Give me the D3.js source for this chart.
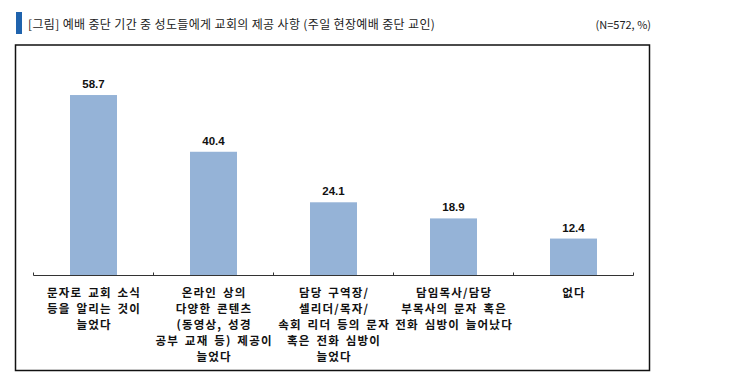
<!DOCTYPE html>
<html><head><meta charset="utf-8">
<script src="https://cdn.jsdelivr.net/npm/d3@7"></script>
<style>
html,body{margin:0;padding:0;background:#fff;}
svg{display:block;}
</style></head>
<body>
<svg id="chart" width="731" height="383"></svg>
<script>
const titleText = "[그림] 예배 중단 기간 중 성도들에게 교회의 제공 사항 (주일 현장예배 중단 교인)";
const noteText = "(N=572, %)";
const categories = [
  ["문자로 교회 소식", "등을 알리는 것이", "늘었다"],
  ["온라인 상의", "다양한 콘텐츠", "(동영상, 성경", "공부 교재 등) 제공이", "늘었다"],
  ["담당 구역장/", "셀리더/목자/", "속회 리더 등의 문자", "혹은 전화 심방이", "늘었다"],
  ["담임목사/담당", "부목사의 문자 혹은", "전화 심방이 늘어났다"],
  ["없다"]
];
const values = [58.7, 40.4, 24.1, 18.9, 12.4];
const yDomain = [0, 70];

const svg = d3.select("#chart");

// header
svg.append("rect").attr("x", 16).attr("y", 12).attr("width", 6).attr("height", 22).attr("fill", "#1f63ad");
svg.append("text").attr("x", 28).attr("y", 29)
  .attr("font-family", "'Noto Sans CJK KR', sans-serif").attr("font-size", 12)
  .attr("letter-spacing", 0.35)
  .attr("fill", "#222").text(titleText);
svg.append("text").attr("x", 651).attr("y", 29).attr("text-anchor", "end")
  .attr("font-family", "'Noto Sans CJK KR', sans-serif").attr("font-size", 11)
  .attr("fill", "#222").text(noteText);

// frame
svg.append("rect").attr("x", 15.5).attr("y", 45).attr("width", 634).attr("height", 325.5)
  .attr("fill", "none").attr("stroke", "#111").attr("stroke-width", 1.5);

const idx = d3.range(values.length);
const x = d3.scaleBand().domain(idx).range([33.5, 633.5]).paddingInner(0).paddingOuter(0);
const y = d3.scaleLinear().domain(yDomain).range([277, 60]);
const barW = 47;

// bars
svg.append("g").selectAll("rect").data(idx).join("rect")
  .attr("x", i => x(i) + x.bandwidth() / 2 - barW / 2)
  .attr("y", i => y(values[i]))
  .attr("width", barW)
  .attr("height", i => y(0) - y(values[i]) - 1.5)
  .attr("fill", "#95b3d7");

// axis
const axisY = 275.5;
svg.append("line").attr("x1", 33.5).attr("x2", 633.5).attr("y1", axisY).attr("y2", axisY)
  .attr("stroke", "#333").attr("stroke-width", 1);
const tickXs = d3.range(values.length + 1).map(k => k < values.length ? x(k) : x(values.length - 1) + x.bandwidth());
svg.append("g").selectAll("line").data(tickXs).join("line")
  .attr("x1", d => d).attr("x2", d => d).attr("y1", axisY - 3).attr("y2", axisY)
  .attr("stroke", "#333").attr("stroke-width", 1);

// value labels
svg.append("g").selectAll("text").data(idx).join("text")
  .attr("x", i => x(i) + x.bandwidth() / 2)
  .attr("y", i => y(values[i]) - 7)
  .attr("text-anchor", "middle")
  .attr("font-family", "'Liberation Sans', Arial, sans-serif")
  .attr("font-weight", "bold").attr("font-size", 11.5).attr("fill", "#111")
  .text(i => values[i].toFixed(1));

// category labels
const cg = svg.append("g");
idx.forEach(i => {
  const t = cg.append("text")
    .attr("x", x(i) + x.bandwidth() / 2)
    .attr("text-anchor", "middle")
    .attr("font-family", "'Noto Sans CJK KR', sans-serif")
    .attr("font-weight", "bold").attr("font-size", 11.5)
    .attr("letter-spacing", 1.2).attr("word-spacing", 2)
    .attr("fill", "#111");
  categories[i].forEach((line, j) => {
    t.append("tspan").attr("x", x(i) + x.bandwidth() / 2 + 0.6).attr("y", 297 + j * 16).text(line);
  });
});
</script>
</body></html>
